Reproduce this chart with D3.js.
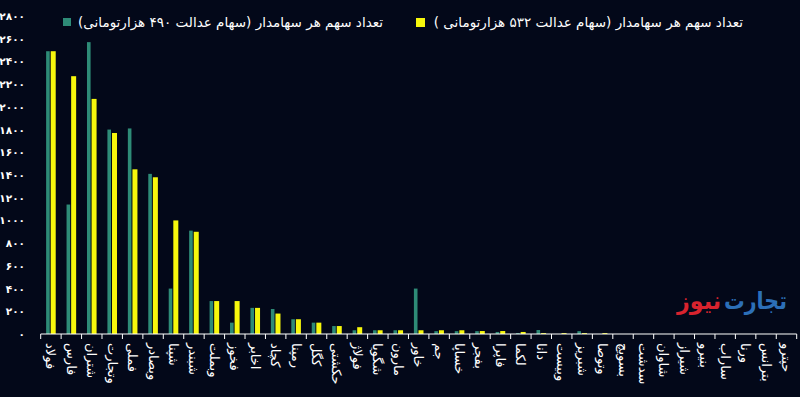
<!DOCTYPE html>
<html>
<head>
<meta charset="utf-8">
<script src="https://cdn.jsdelivr.net/npm/d3@7"></script>
<style>
  html, body { margin: 0; padding: 0; background: #030819; }
  svg { display: block; }
  text { font-family: "DejaVu Sans", sans-serif; fill: #fff; }
</style>
</head>
<body>
<div id="chart"></div>
<script>
// categories, left to right
var categories = ["فولاد", "فارس", "شتران", "وتجارت", "فملی", "وبصادر", "شپنا", "شبندر", "وبملت", "فخوز",
  "اخابر", "کچاد", "رمپنا", "کگل", "حکشتی", "فولاژ", "شگویا", "مارون", "خاور", "جم",
  "خساپا", "بفجر", "فاپرا", "لکما", "دانا", "وبیست", "شبریز", "وتوصا", "بسویچ", "سدشت",
  "شاوان", "شیراز", "بنیرو", "ساراب", "ورنا", "بترانس", "حپترو"];

// سهام عدالت 490 هزارتومانی
var shares490 = [2490, 1140, 2570, 1800, 1810, 1410, 400, 910, 290, 100,
  230, 220, 130, 100, 70, 33, 33, 33, 400, 25,
  25, 25, 18, 9, 35, 0, 25, 0, 0, 0,
  0, 0, 0, 0, 0, 0, 0];

// سهام عدالت 532 هزارتومانی
var shares532 = [2490, 2270, 2070, 1770, 1450, 1380, 1000, 900, 290, 290,
  230, 180, 130, 100, 70, 60, 33, 33, 33, 33,
  33, 26, 26, 18, 8, 8, 8, 8, 0, 0,
  0, 0, 0, 0, 0, 0, 0];

var yTicks = [0, 200, 400, 600, 800, 1000, 1200, 1400, 1600, 1800, 2000, 2200, 2400, 2600, 2800];

var legend490 = "تعداد سهم هر سهامدار  (سهام عدالت ۴۹۰ هزارتومانی)";
var legend532 = "تعداد سهم هر سهامدار  (سهام عدالت ۵۳۲ هزارتومانی )";

var tealColor = "#2e8b77";
var yellowColor = "#f7f70c";

var faDigits = "۰۱۲۳۴۵۶۷۸۹";
function toFa(n) {
  return String(n).replace(/[0-9]/g, function(d){ return faDigits[+d]; });
}

var width = 800, height = 397;

var svg = d3.select("#chart").append("svg")
  .attr("width", width)
  .attr("height", height);

svg.append("rect")
  .attr("width", width)
  .attr("height", height)
  .attr("fill", "#030819");

var x = d3.scaleBand()
  .domain(categories)
  .range([40.7, 796.7])
  .padding(0);

var y = d3.scaleLinear()
  .domain([0, 2800])
  .range([334, 16]);

// bars
var bw = x.bandwidth();

svg.append("g").selectAll("rect")
  .data(shares490)
  .enter().append("rect")
  .attr("x", function(d, i){ return x(categories[i]) + bw / 2 - 4.8; })
  .attr("y", function(d){ return y(d); })
  .attr("width", 3.6)
  .attr("height", function(d){ return y(0) - y(d); })
  .attr("fill", tealColor);

svg.append("g").selectAll("rect")
  .data(shares532)
  .enter().append("rect")
  .attr("x", function(d, i){ return x(categories[i]) + bw / 2 - 0.2; })
  .attr("y", function(d){ return y(d); })
  .attr("width", 5)
  .attr("height", function(d){ return y(0) - y(d); })
  .attr("fill", yellowColor);

// x axis
var xAxis = svg.append("g")
  .attr("transform", "translate(0," + y(0) + ")");

xAxis.append("line")
  .attr("x1", 40.7)
  .attr("x2", 796.7)
  .attr("stroke", "#fff")
  .attr("stroke-width", 1.2);

xAxis.selectAll("line.tick")
  .data(categories.concat(["end"]))
  .enter().append("line")
  .attr("class", "tick")
  .attr("x1", function(d, i){ return 40.7 + i * bw; })
  .attr("x2", function(d, i){ return 40.7 + i * bw; })
  .attr("y1", 0)
  .attr("y2", 5)
  .attr("stroke", "#fff")
  .attr("stroke-width", 1);

xAxis.selectAll("text")
  .data(categories)
  .enter().append("text")
  .attr("transform", function(d){
    return "translate(" + (x(d) + bw / 2) + ",9) rotate(90)";
  })
  .attr("text-anchor", "start")
  .attr("dominant-baseline", "central")
  .style("font-size", "13px")
  .text(function(d){ return d; });

// y labels
svg.append("g").selectAll("text")
  .data(yTicks)
  .enter().append("text")
  .attr("x", 25)
  .attr("y", function(d){ return y(d); })
  .attr("text-anchor", "end")
  .attr("dominant-baseline", "central")
  .style("font-size", "10.5px")
  .style("font-weight", "bold")
  .style("letter-spacing", "-1px")
  .text(function(d){ return toFa(d); });

// legend
var lg = svg.append("g");

lg.append("rect")
  .attr("x", 63).attr("y", 18)
  .attr("width", 8).attr("height", 8)
  .attr("fill", tealColor);

lg.append("text")
  .attr("x", 383).attr("y", 22)
  .attr("text-anchor", "end")
  .attr("dominant-baseline", "central")
  .style("font-size", "13.5px")
  .text(legend490);

lg.append("rect")
  .attr("x", 416).attr("y", 18)
  .attr("width", 9).attr("height", 9)
  .attr("fill", yellowColor);

lg.append("text")
  .attr("x", 743).attr("y", 22)
  .attr("text-anchor", "end")
  .attr("dominant-baseline", "central")
  .style("font-size", "13.5px")
  .text(legend532);

// watermark
var wm = svg.append("g").style("font-weight", "bold").style("font-size", "24px");

wm.append("text")
  .attr("x", 787).attr("y", 301)
  .attr("text-anchor", "end")
  .attr("dominant-baseline", "central")
  .attr("textLength", 63)
  .attr("lengthAdjust", "spacingAndGlyphs")
  .style("fill", "#2c6fb8")
  .text("تجارت");

wm.append("text")
  .attr("x", 721).attr("y", 301)
  .attr("text-anchor", "end")
  .attr("dominant-baseline", "central")
  .attr("textLength", 44)
  .attr("lengthAdjust", "spacingAndGlyphs")
  .style("fill", "#d8232e")
  .text("نیوز");
</script>
</body>
</html>
